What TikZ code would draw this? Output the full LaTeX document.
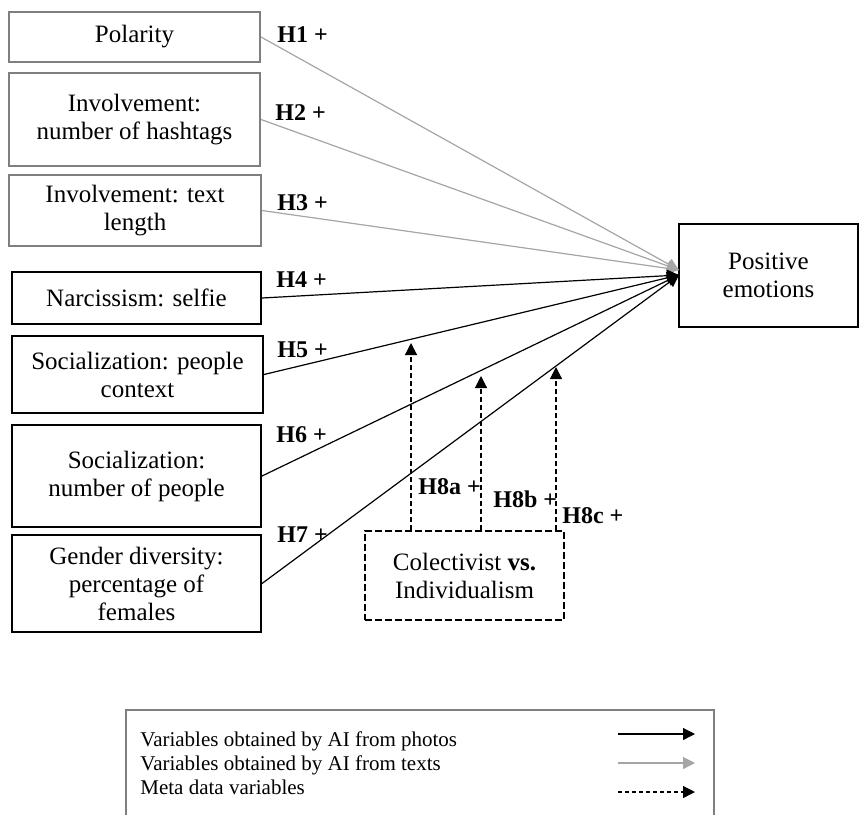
\documentclass[tikz,border=0pt]{standalone}
\usepackage{fontspec}
\setmainfont{Liberation Serif}
\usetikzlibrary{arrows.meta}
\definecolor{boxgray}{HTML}{7F7F7F}
\definecolor{linegray}{HTML}{A6A6A6}
\begin{document}
\begin{tikzpicture}[x=0.5pt,y=-0.5pt,
  varbox/.style={draw=black,line width=1pt,align=center,inner sep=0pt,font=\fontsize{12.5}{14}\selectfont},
  textbox/.style={varbox,draw=boxgray},
  hlabel/.style={anchor=west,inner sep=0pt,font=\fontsize{12}{14}\selectfont\bfseries},
  tip/.style={-{Triangle[length=6pt,width=6pt]}},
  photoarrow/.style={tip,line width=0.6pt,draw=black},
  textarrow/.style={tip,line width=0.6pt,draw=linegray,fill=linegray},
  metaarrow/.style={tip,line width=0.6pt,dash pattern=on 2.5pt off 1.5pt},
  legtext/.style={anchor=base west,inner sep=0pt,font=\fontsize{10.5}{12}\selectfont}]
\useasboundingbox (0,0) rectangle (860,815);

% source boxes
\node[textbox,minimum width=125.5pt,minimum height=25pt] (pol) at (134.5,37) {Polarity};
\node[textbox,minimum width=125.5pt,minimum height=46.5pt] (hash) at (134.5,119.5) {Involvement:\\number of hashtags};
\node[textbox,minimum width=126pt,minimum height=35.5pt] (len) at (135,210.5) {Involvement: text\\length};
\node[varbox,minimum width=124.5pt,minimum height=26pt] (nar) at (136.5,298) {Narcissism: selfie};
\node[varbox,minimum width=125.5pt,minimum height=38.5pt] (ctx) at (137.5,374.5) {Socialization: people\\context};
\node[varbox,minimum width=124.5pt,minimum height=51pt] (num) at (136.5,476) {Socialization:\\number of people};
\node[varbox,minimum width=124.5pt,minimum height=48.5pt] (gen) at (136.5,583.5) {Gender diversity:\\percentage of\\females};

% target
\node[varbox,minimum width=89.5pt,minimum height=51.5pt] (pos) at (768.5,275.5) {Positive\\emotions};

% moderator
\node[varbox,dash pattern=on 3.5pt off 1.5pt,minimum width=99.5pt,minimum height=44.5pt] (col) at (464.5,575.5) {Colectivist \textbf{vs.}\\Individualism};

% arrow end points
\coordinate (tg) at (679,270);
\coordinate (tb) at (679,275);

% gray connectors
\draw[textarrow] (pol.east) -- (tg);
\draw[textarrow] (hash.east) -- (tg);
\draw[textarrow] (len.east) -- (tg);
% black connectors
\draw[photoarrow] (nar.east) -- (tb);
\draw[photoarrow] (ctx.east) -- (tb);
\draw[photoarrow] (num.east) -- (tb);
\draw[photoarrow] (gen.east) -- (tb);

% labels
\node[hlabel] (h1) at (277,35) {H1 +};
\node[hlabel] (h2) at (275,113) {H2 +};
\node[hlabel] (h3) at (277,203) {H3 +};
\node[hlabel] (h4) at (276,280) {H4 +};
\node[hlabel] (h5) at (277,350) {H5 +};
\node[hlabel] (h6) at (276,435) {H6 +};
\node[hlabel] (h7) at (277,535) {H7 +};

% moderating arrows
\coordinate (m1) at (411,343);
\coordinate (m2) at (481,376);
\coordinate (m3) at (556,367);
\draw[metaarrow] (col.north -| m1) -- (m1);
\draw[metaarrow] (col.north -| m2) -- (m2);
\draw[metaarrow] (col.north -| m3) -- (m3);
\node[hlabel] (h8a) at (418,487) {H8a +};
\node[hlabel] (h8b) at (493,499) {H8b +};
\node[hlabel] (h8c) at (562,516) {H8c +};

% legend
\draw[draw=boxgray,line width=0.6pt] (126,815) -- (126,710) -- (714,710) -- (714,815);
\node[legtext] (l1) at (140,746) {Variables obtained by AI from photos};
\node[legtext] (l2) at (140,770) {Variables obtained by AI from texts};
\node[legtext] (l3) at (140,794) {Meta data variables};
\coordinate (a1s) at (618,734); \coordinate (a1e) at (695,734);
\coordinate (a2s) at (618,763); \coordinate (a2e) at (695,763);
\coordinate (a3s) at (618,792); \coordinate (a3e) at (695,792);
\draw[photoarrow] (a1s) -- (a1e);
\draw[textarrow] (a2s) -- (a2e);
\draw[metaarrow,dash pattern=on 2pt off 1.5pt] (a3s) -- (a3e);
\end{tikzpicture}
\end{document}
